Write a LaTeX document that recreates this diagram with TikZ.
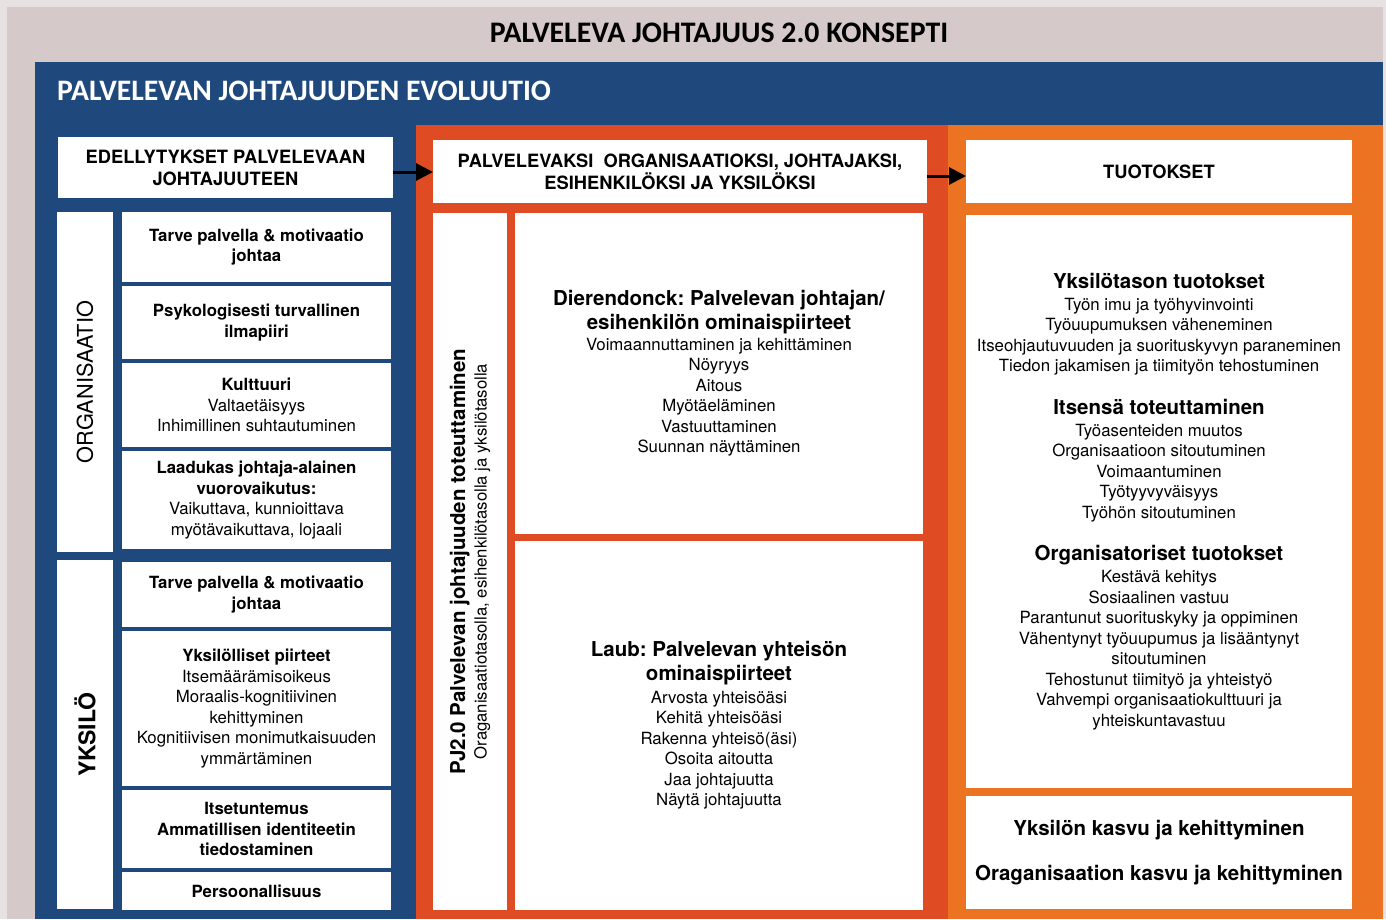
\documentclass[tikz,border=0pt]{standalone}
\usepackage{fontspec}
\setmainfont{TeX Gyre Heros}
\newfontfamily\bannerfont{Carlito}
\usetikzlibrary{arrows.meta,positioning}
\definecolor{ConceptEdge}{HTML}{E7E1E1}
\definecolor{ConceptTaupe}{HTML}{D5C9C9}
\definecolor{EvoBlue}{HTML}{1F487C}
\definecolor{ImplRed}{HTML}{DF4B22}
\definecolor{OutOrange}{HTML}{EB7321}
\newcommand{\bighead}[1]{{\fontsize{20.5}{24}\selectfont\bfseries #1}}
\frenchspacing

\begin{document}
\begin{tikzpicture}[
    x=1pt,y=-1pt,
    node distance=4pt,
    cell/.style={
      fill=white,
      draw=none,
      outer sep=0pt,
      inner sep=2pt,
      align=center,
      anchor=north west,
      font=\fontsize{16.8}{20.5}\selectfont
    },
    headcell/.style={cell,font=\fontsize{18.3}{22}\selectfont\bfseries},
    leftcell/.style={cell,minimum width=269pt},
    sidecell/.style={cell,anchor=center,rotate=90},
    arrow/.style={-{Triangle[length=17pt,width=17pt]},line width=3pt,draw=black}
  ]
    % panels
    \fill[ConceptEdge] (0,0) rectangle (1386,919);
    \fill[ConceptTaupe] (7,7) rectangle (1383,919);
    \fill[EvoBlue] (35,62) rectangle (1383,919);
    \fill[ImplRed] (416,125) rectangle (948,919);
    \fill[OutOrange] (948,125) rectangle (1383,919);
    \node[anchor=base,font=\bannerfont\fontsize{29.8}{34}\selectfont\bfseries] (concept) at (719,42) {PALVELEVA JOHTAJUUS 2.0 KONSEPTI};
    \node[anchor=base west,inner sep=0pt,text=white,font=\bannerfont\fontsize{29.7}{36}\selectfont\bfseries] (evo) at (57,100) {PALVELEVAN JOHTAJUUDEN EVOLUUTIO};

    % edellytykset
    \node[headcell,minimum width=335pt,minimum height=61pt] (pre) at (58,137) {EDELLYTYKSET PALVELEVAAN\\JOHTAJUUTEEN};
    \node[sidecell,minimum width=340pt,minimum height=56pt,font=\fontsize{21.7}{26}\selectfont] (orgside) at (85,382) {ORGANISAATIO};
    \node[leftcell,minimum height=70pt] (org1) at (122,212) {\textbf{Tarve palvella \& motivaatio}\\\textbf{johtaa}};
    \node[leftcell,minimum height=73pt,below=of org1] (org2) {\textbf{Psykologisesti turvallinen}\\\textbf{ilmapiiri}};
    \node[leftcell,minimum height=84pt,below=of org2] (org3) {\textbf{Kulttuuri}\\Valtaetäisyys\\Inhimillinen suhtautuminen};
    \node[leftcell,minimum height=98pt,below=of org3] (org4) {\textbf{Laadukas johtaja-alainen}\\\textbf{vuorovaikutus:}\\Vaikuttava, kunnioittava\\myötävaikuttava, lojaali};
    \node[sidecell,minimum width=349pt,minimum height=56pt,font=\fontsize{23}{28}\selectfont\bfseries] (indside) at (85,734.5) {YKSILÖ};
    \node[leftcell,minimum height=65pt] (ind1) at (122,562) {\textbf{Tarve palvella \& motivaatio}\\\textbf{johtaa}};
    \node[leftcell,minimum height=155pt,below=of ind1] (ind2) {\textbf{Yksilölliset piirteet}\\Itsemäärämisoikeus\\Moraalis-kognitiivinen\\kehittyminen\\Kognitiivisen monimutkaisuuden\\ymmärtäminen};
    \node[leftcell,minimum height=78pt,below=of ind2] (ind3) {\textbf{Itsetuntemus}\\\textbf{Ammatillisen identiteetin}\\\textbf{tiedostaminen}};
    \node[leftcell,minimum height=38pt,below=of ind3] (ind4) {\textbf{Persoonallisuus}};

    % toteuttaminen
    \node[headcell,minimum width=494pt,minimum height=63pt] (impl) at (433,140) {PALVELEVAKSI\ \ ORGANISAATIOKSI, JOHTAJAKSI,\\ESIHENKILÖKSI JA YKSILÖKSI};
    \node[sidecell,minimum width=697pt,minimum height=74pt] (pjside) at (470,561.5) {\bighead{PJ2.0 Palvelevan johtajuuden toteuttaminen}\\[1pt]{\fontsize{16.7}{19}\selectfont Oraganisaatiotasolla, esihenkilötasolla ja yksilötasolla}};
    \node[cell,minimum width=408pt,minimum height=321pt] (dier) at (515,213) {\bighead{Dierendonck: Palvelevan johtajan/}\\[3.5pt]\bighead{esihenkilön ominaispiirteet}\\Voimaannuttaminen ja kehittäminen\\Nöyryys\\Aitous\\Myötäeläminen\\Vastuuttaminen\\Suunnan näyttäminen};
    \node[cell,minimum width=408pt,minimum height=369pt,below=7pt of dier] (laub) {\bighead{Laub: Palvelevan yhteisön}\\[3.5pt]\bighead{ominaispiirteet}\\[2pt]Arvosta yhteisöäsi\\Kehitä yhteisöäsi\\Rakenna yhteisö(äsi)\\Osoita aitoutta\\Jaa johtajuutta\\Näytä johtajuutta};

    % tuotokset
    \node[headcell,minimum width=386pt,minimum height=63pt] (out) at (966,140) {TUOTOKSET};
    \node[cell,minimum width=386pt,minimum height=573pt] (results) at (966,215) {\bighead{Yksilötason tuotokset}\\[1.5pt]Työn imu ja työhyvinvointi\\Työuupumuksen väheneminen\\Itseohjautuvuuden ja suorituskyvyn paraneminen\\Tiedon jakamisen ja tiimityön tehostuminen\\[22pt]\bighead{Itsensä toteuttaminen}\\[1.5pt]Työasenteiden muutos\\Organisaatioon sitoutuminen\\Voimaantuminen\\Työtyyvyväisyys\\Työhön sitoutuminen\\[22pt]\bighead{Organisatoriset tuotokset}\\[1.5pt]Kestävä kehitys\\Sosiaalinen vastuu\\Parantunut suorituskyky ja oppiminen\\Vähentynyt työuupumus ja lisääntynyt\\sitoutuminen\\Tehostunut tiimityö ja yhteistyö\\Vahvempi organisaatiokulttuuri ja\\yhteiskuntavastuu};
    \node[cell,minimum width=386pt,minimum height=113pt,below=8pt of results] (growth) {\bighead{Yksilön kasvu ja kehittyminen}\\[25pt]\bighead{Oraganisaation kasvu ja kehittyminen}};

    \foreach \a/\b in {pre/impl,impl/out}
      \draw[arrow] ([yshift=-4.5pt]\a.east) -- ([yshift=-4.5pt]\a.east -| \b.west);
  \end{tikzpicture}
\end{document}
